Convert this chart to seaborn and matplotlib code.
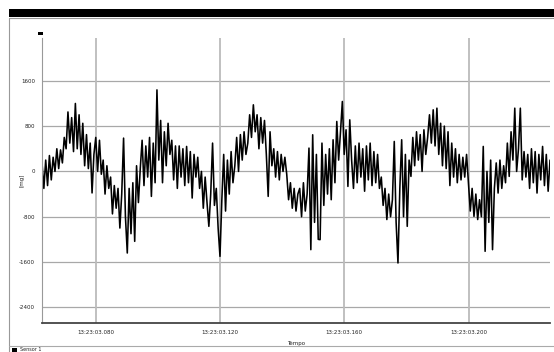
import numpy as np
import pandas as pd
import matplotlib
matplotlib.use("Agg")
import matplotlib.pyplot as plt
from matplotlib.patches import Rectangle
from matplotlib.lines import Line2D
import seaborn as sns

# Sinal do sensor (mg), amostras igualmente espacadas
sensor_mg = [
    150, -300, 200, -250, 280, -150, 250, 0, 400, 50, 380, 150, 600,
    400, 1050, 500, 950, 350, 1200, 400, 1000, 300, 850, 100, 650, 50,
    500, -380, 300, 600, 0, 550, -50, 200, -400, 100, -300,
    -100, -750, -250, -650, -300, -1000, -400, 588, -800, -1441,
    -300, -1100, -200, -1235, 100, -550, 50, 550, -250, 450, -100, 600,
    -441, 500, -200, 1440, 200, 900, -200, 700, 100, 850, 300,
    550, -150, 450, -300, 450, -100, 400, -250,
    441, -200, 350, -470, 300, -100, 250, -300, 0, -650, -100, -550,
    -970, -400, 500, -600, -300, -1000, -1500, -500,
    300, -700, 200, -400, 350, -200, 100, 600, 0, 650, 200, 700, 300,
    500, 1000, 600, 1176, 700, 1000, 400, 950, 500, 900, 300,
    -441, 700, 100, 400, -100, 350, -150, 300, 0, 250,
    -50, -500, -200, -650, -300, -700, -400,
    -300, -800, -200, -700, -400, 412, -1382, 647, -900, 300, -1200,
    -1205, 500, -600, 300, -400, 400, -500, 559, -200, 882,
    200, 700, 1235, 300, 735, -265, 911,
    200, -300, 450, -200, 500, -100, 400, -350, 450, -150, 500, -250, 350, -200, 300, -300,
    -100, -600, -300, -850, -400, -800, -500, 529, -900, -1617, -300,
    559, -800, 300, -970, 200, -88, 600, 100, 700, 200, 650, 0, 735, 300,
    600, 1000, 500, 1088, 450, 1117, 300, 850, 100, 800, 50,
    700, -250, 500, -100, 400, -200, 300, -150, 250, -100, 300,
    -200, -700, -300, -794, -400, -850, -500, -800, 441,
    -1411, 0, -900, 200, -1382, -300, 150, -382, 200, -300, 100, -200,
    500, -88, 700, 200, 1117, 0, 400, 1117, -150, 350, -100, 300,
    -300, 400, -200, 350, -382, 300, -150, 441, -250, 300, -350, 200,
]
t_inicio = 0.0627   # segundos depois de 13:23:03
t_fim = 0.2262

x_ticks = [0.080, 0.120, 0.160, 0.200]
x_ticklabels = ["13:23:03.080", "13:23:03.120", "13:23:03.160", "13:23:03.200"]
y_ticks = [1600, 800, 0, -800, -1600, -2400]
y_ticklabels = ["1600", "800", "0", "-800", "-1600", "-2400"]

df = pd.DataFrame({
    "t": np.linspace(t_inicio, t_fim, len(sensor_mg)),
    "mg": sensor_mg,
})

sns.set_style("white")
plt.rcParams["font.family"] = ["DejaVu Sans"]

W, H = 554, 352
fig = plt.figure(figsize=(W / 100, H / 100), dpi=100)


def fx(px):
    return px / W


def fy(py):
    return 1 - py / H


ax = fig.add_axes([fx(42), fy(323), fx(550) - fx(42), fy(38) - fy(323)])

sns.lineplot(x="t", y="mg", data=df, ax=ax, color="black", lw=1.15,
             estimator=None, legend=False)

ax.set_xlim(t_inicio, t_fim)
ax.set_ylim(-2677, 2356)

ax.set_xticks(x_ticks)
ax.set_xticklabels(x_ticklabels)
ax.set_xticks(np.arange(0.070, 0.2262, 0.010), minor=True)
ax.set_yticks(y_ticks)
ax.set_yticklabels(y_ticklabels)
ax.set_yticks(np.arange(-2600, 2356, 200), minor=True)

ax.tick_params(axis="both", which="both", labelsize=4, colors="#555555",
               length=2, width=0.6, pad=3, direction="out")
ax.tick_params(axis="both", which="minor", length=1.5)
ax.tick_params(labelcolor="#222222")

# grades
for yv in y_ticks:
    ax.axhline(yv, color="#a8a8a8", lw=0.9, zorder=0)
for xv in x_ticks:
    ax.axvline(xv, color="#bbbbbb", lw=1.3, zorder=0)

for s in ["top", "right"]:
    ax.spines[s].set_visible(False)
ax.spines["left"].set_color("#999999")
ax.spines["left"].set_linewidth(0.8)
ax.spines["bottom"].set_color("#444444")
ax.spines["bottom"].set_linewidth(1.3)

ax.set_xlabel("Tempo", fontsize=4, color="#222222")
ax.set_ylabel("[mg]", fontsize=4, color="#222222")
ax.xaxis.set_label_coords(0.5, -0.063)
ax.yaxis.set_label_coords(-0.035, 0.5)

# moldura da janela
fig.add_artist(Rectangle((fx(9), fy(17.3)), fx(554) - fx(9), fy(9) - fy(17.3),
                         transform=fig.transFigure, color="black", lw=0))
fig.add_artist(Line2D([fx(9), fx(554)], [fy(18.2), fy(18.2)],
                      transform=fig.transFigure, color="#999999", lw=0.8))
fig.add_artist(Line2D([fx(9), fx(9)], [fy(18), fy(352)],
                      transform=fig.transFigure, color="#999999", lw=0.8))
fig.add_artist(Line2D([fx(9), fx(554)], [fy(346), fy(346)],
                      transform=fig.transFigure, color="#aaaaaa", lw=0.8))
# marcador de unidade no topo do eixo
fig.add_artist(Rectangle((fx(38), fy(35)), fx(43) - fx(38), fy(32.3) - fy(35),
                         transform=fig.transFigure, color="black", lw=0))

# legenda
fig.add_artist(Rectangle((fx(12), fy(351.5)), fx(17) - fx(12), fy(347.5) - fy(351.5),
                         transform=fig.transFigure, color="black", lw=0))
fig.text(fx(20), fy(349.5), "Sensor 1", fontsize=3.5, color="#222222",
         va="center", ha="left")

fig.savefig("out.png", dpi=100)
